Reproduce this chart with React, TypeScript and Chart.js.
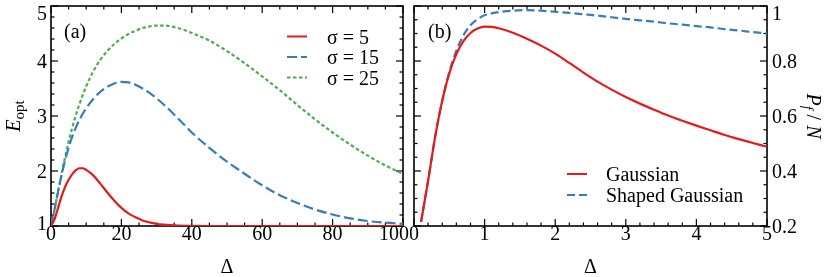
import React, { useEffect, useRef } from "react";
import { Chart, registerables } from "chart.js";

Chart.register(...registerables);

const FONT = '"Liberation Serif", "DejaVu Serif", "Times New Roman", Times, serif';
const RED = "#e41a1c";
const BLUE = "#377eb8";
const GREEN = "#4daf4a";

// ---------- Panel (a) ----------
const deltaA = [0, 1, 2, 3, 4, 5, 6, 7, 8, 9, 10, 12, 14, 16, 18, 20, 22, 24, 26, 28, 30, 32, 34, 36, 38, 40, 45, 50, 55, 60, 65, 70, 75, 80, 85, 90, 95, 100];
const eSigma5 = [1.0, 1.12, 1.33, 1.54, 1.71, 1.84, 1.94, 2.01, 2.05, 2.05, 2.02, 1.92, 1.77, 1.61, 1.46, 1.33, 1.23, 1.16, 1.1, 1.065, 1.04, 1.025, 1.015, 1.008, 1.004, 1.002, 1.0, 1.0, 1.0, 1.0, 1.0, 1.0, 1.0, 1.0, 1.0, 1.0, 1.0, 1.0];
const eSigma15 = [1.0, 1.3, 1.62, 1.92, 2.2, 2.42, 2.62, 2.78, 2.92, 3.04, 3.14, 3.31, 3.44, 3.53, 3.59, 3.62, 3.61, 3.57, 3.5, 3.42, 3.32, 3.21, 3.09, 2.96, 2.83, 2.7, 2.42, 2.17, 1.95, 1.74, 1.56, 1.42, 1.3, 1.21, 1.14, 1.09, 1.06, 1.04];
const eSigma25 = [1.0, 1.3, 1.63, 1.95, 2.25, 2.53, 2.78, 3.0, 3.2, 3.38, 3.54, 3.81, 4.02, 4.18, 4.31, 4.41, 4.49, 4.55, 4.6, 4.63, 4.645, 4.645, 4.63, 4.6, 4.56, 4.51, 4.37, 4.18, 3.96, 3.72, 3.47, 3.2, 2.94, 2.7, 2.48, 2.28, 2.1, 1.95];
const legendA = ["σ = 5", "σ = 15", "σ = 25"];
const xTicksA = [0, 20, 40, 60, 80, 100];
const xTickLabelsA = ["0", "20", "40", "60", "80", "100"];
const yTicksA = [1, 2, 3, 4, 5];
const yTickLabelsA = ["1", "2", "3", "4", "5"];

// ---------- Panel (b) ----------
const deltaB = [0.1, 0.2, 0.3, 0.4, 0.5, 0.6, 0.7, 0.8, 0.9, 1.0, 1.1, 1.2, 1.4, 1.6, 1.8, 2.0, 2.2, 2.4, 2.6, 2.8, 3.0, 3.2, 3.4, 3.6, 3.8, 4.0, 4.2, 4.4, 4.6, 4.8, 5.0];
const pGaussian = [0.215, 0.365, 0.525, 0.655, 0.755, 0.825, 0.872, 0.902, 0.918, 0.925, 0.924, 0.919, 0.903, 0.881, 0.856, 0.827, 0.793, 0.758, 0.725, 0.696, 0.669, 0.645, 0.623, 0.602, 0.583, 0.565, 0.548, 0.531, 0.516, 0.502, 0.488];
const pShaped = [0.215, 0.365, 0.525, 0.657, 0.76, 0.838, 0.893, 0.93, 0.952, 0.966, 0.973, 0.978, 0.983, 0.985, 0.983, 0.979, 0.975, 0.97, 0.965, 0.959, 0.953, 0.948, 0.943, 0.937, 0.932, 0.927, 0.922, 0.916, 0.911, 0.905, 0.9];
const legendB = ["Gaussian", "Shaped Gaussian"];
const xTicksB = [0, 1, 2, 3, 4, 5];
const xTickLabelsB = ["0", "1", "2", "3", "4", "5"];
const yTicksB = [0.2, 0.4, 0.6, 0.8, 1];
const yTickLabelsB = ["0.2", "0.4", "0.6", "0.8", "1"];

type LegendItem = { text: string; color: string; dash: number[] };
type PanelCfg = {
  tag: string;
  tagX: number;
  xMin: number; xMax: number; xMinor: number;
  yMin: number; yMax: number; yMinor: number;
  xTicks: number[]; xLabels: string[];
  yTicks: number[]; yLabels: string[];
  ySide: "left" | "right";
  lastXShift: number;
  clampBottom: boolean;
  legend: LegendItem[];
  legendX: number; legendY0: number; legendDy: number; legendTextDx: number;
  yTitle: "E" | "P";
  yTitleX: number;
};

function isMajor(v: number, list: number[]) {
  return list.some((t) => Math.abs(t - v) < 1e-6);
}

// draw text so that non-ASCII characters are shaped in their own run
function drawMixed(ctx: CanvasRenderingContext2D, text: string, x: number, y: number) {
  const parts: string[] = [];
  let cur = "";
  let curAscii: boolean | null = null;
  for (const ch of Array.from(text)) {
    const ascii = ch.charCodeAt(0) < 128;
    if (curAscii === null || ascii === curAscii) {
      cur += ch;
    } else {
      parts.push(cur);
      cur = ch;
    }
    curAscii = ascii;
  }
  if (cur) parts.push(cur);
  let px = x;
  for (const p of parts) {
    ctx.fillText(p, px, y);
    px += ctx.measureText(p).width;
  }
}

function makePlugin(cfg: PanelCfg) {
  return {
    id: "sciframe",
    beforeDatasetsDraw(chart: any) {
      const ctx: CanvasRenderingContext2D = chart.ctx;
      const a = chart.chartArea;
      const xs = chart.scales.x;
      const ys = chart.scales.y;
      ctx.save();
      ctx.strokeStyle = "#000";
      ctx.setLineDash([]);
      ctx.lineWidth = 1.2;
      const line = (x1: number, y1: number, x2: number, y2: number) => {
        ctx.beginPath();
        ctx.moveTo(x1, y1);
        ctx.lineTo(x2, y2);
        ctx.stroke();
      };
      const nx = Math.round((cfg.xMax - cfg.xMin) / cfg.xMinor);
      for (let i = 0; i <= nx; i++) {
        const v = cfg.xMin + i * cfg.xMinor;
        const len = isMajor(v, cfg.xTicks) ? 7 : 3.5;
        const px = xs.getPixelForValue(v);
        line(px, a.bottom, px, a.bottom - len);
        line(px, a.top, px, a.top + len);
      }
      const ny = Math.round((cfg.yMax - cfg.yMin) / cfg.yMinor);
      for (let i = 0; i <= ny; i++) {
        const v = cfg.yMin + i * cfg.yMinor;
        const len = isMajor(v, cfg.yTicks) ? 7 : 3.5;
        const py = ys.getPixelForValue(v);
        line(a.left, py, a.left + len, py);
        line(a.right, py, a.right - len, py);
      }
      ctx.lineWidth = 1.6;
      ctx.strokeRect(a.left, a.top, a.right - a.left, a.bottom - a.top);
      ctx.restore();
    },
    afterDraw(chart: any) {
      const ctx: CanvasRenderingContext2D = chart.ctx;
      const a = chart.chartArea;
      const xs = chart.scales.x;
      const ys = chart.scales.y;
      ctx.save();
      ctx.fillStyle = "#000";
      const line = (x1: number, y1: number, x2: number, y2: number) => {
        ctx.beginPath();
        ctx.moveTo(x1, y1);
        ctx.lineTo(x2, y2);
        ctx.stroke();
      };

      // x tick labels
      ctx.font = `20px ${FONT}`;
      ctx.textBaseline = "alphabetic";
      ctx.textAlign = "center";
      cfg.xTicks.forEach((v, i) => {
        let px = xs.getPixelForValue(v);
        if (i === cfg.xTicks.length - 1) px += cfg.lastXShift;
        ctx.fillText(cfg.xLabels[i], px, a.bottom + 14);
      });
      // y tick labels
      cfg.yTicks.forEach((v, i) => {
        const py = ys.getPixelForValue(v);
        let base = py + 7;
        if (base < a.top + 14) base = a.top + 14;
        if (cfg.clampBottom && base > a.bottom + 4) base = a.bottom + 4;
        if (cfg.ySide === "left") {
          ctx.textAlign = "right";
          ctx.fillText(cfg.yLabels[i], a.left - 4, base);
        } else {
          ctx.textAlign = "left";
          ctx.fillText(cfg.yLabels[i], a.right + 5, base);
        }
      });
      // x title
      ctx.textAlign = "center";
      ctx.fillText("Δ", (a.left + a.right) / 2, a.bottom + 47);
      // panel tag
      ctx.textAlign = "left";
      ctx.fillText(cfg.tag, cfg.tagX, a.top + 32);

      // legend
      cfg.legend.forEach((it, i) => {
        const y = cfg.legendY0 + i * cfg.legendDy;
        ctx.strokeStyle = it.color;
        ctx.lineWidth = 2;
        ctx.setLineDash(it.dash);
        line(cfg.legendX, y, cfg.legendX + 20, y);
        ctx.setLineDash([]);
        ctx.fillStyle = "#000";
        ctx.textAlign = "left";
        drawMixed(ctx, it.text, cfg.legendX + cfg.legendTextDx, y + 7);
      });

      // y title
      const cy = (a.top + a.bottom) / 2;
      ctx.save();
      ctx.translate(cfg.yTitleX, cy);
      ctx.fillStyle = "#000";
      ctx.textAlign = "left";
      ctx.textBaseline = "alphabetic";
      if (cfg.yTitle === "E") {
        ctx.rotate(-Math.PI / 2);
        const fMain = `italic 20px ${FONT}`;
        const fSub = `15px ${FONT}`;
        ctx.font = fMain;
        const wE = ctx.measureText("E").width;
        ctx.font = fSub;
        const wS = ctx.measureText("opt").width;
        const x0 = -(wE + wS) / 2;
        ctx.font = fMain;
        ctx.fillText("E", x0, 7);
        ctx.font = fSub;
        ctx.fillText("opt", x0 + wE, 11);
      } else {
        ctx.rotate(Math.PI / 2);
        const fMain = `italic 20px ${FONT}`;
        const fSub = `italic 14px ${FONT}`;
        const fUp = `20px ${FONT}`;
        ctx.font = fMain;
        const wP = ctx.measureText("P").width;
        const wN = ctx.measureText("N").width;
        ctx.font = fSub;
        const wF = ctx.measureText("f").width;
        ctx.font = fUp;
        const wSl = ctx.measureText(" / ").width;
        const total = wP + wF + wSl + wN;
        let x = -total / 2;
        ctx.font = fMain;
        ctx.fillText("P", x, 7);
        x += wP;
        ctx.font = fSub;
        ctx.fillText("f", x, 11);
        x += wF;
        ctx.font = fUp;
        ctx.fillText(" / ", x, 7);
        x += wSl;
        ctx.font = fMain;
        ctx.fillText("N", x, 7);
      }
      ctx.restore();
      ctx.restore();
    },
  };
}

function pts(xs: number[], ys: number[]) {
  return xs.map((x, i) => ({ x, y: ys[i] }));
}

function lineDs(label: string, xs: number[], ys: number[], color: string, dash: number[]) {
  return {
    label,
    data: pts(xs, ys),
    borderColor: color,
    backgroundColor: color,
    borderWidth: 2.2,
    borderDash: dash,
    pointRadius: 0,
    fill: false,
    tension: 0.4,
    cubicInterpolationMode: "monotone",
  };
}

function baseOptions(cfg: PanelCfg, padding: any) {
  return {
    responsive: false,
    animation: false,
    devicePixelRatio: 1,
    layout: { padding },
    plugins: { legend: { display: false }, tooltip: { enabled: false } },
    scales: {
      x: { type: "linear", min: cfg.xMin, max: cfg.xMax, display: false },
      y: { type: "linear", min: cfg.yMin, max: cfg.yMax, display: false },
    },
  };
}

const DASH_A15 = [10, 4];
const DASH_A25 = [3.5, 2.5];
const DASH_B = [8, 4];

export default function App() {
  const refA = useRef<HTMLCanvasElement | null>(null);
  const refB = useRef<HTMLCanvasElement | null>(null);

  useEffect(() => {
    const cfgA: PanelCfg = {
      tag: "(a)", tagX: 64,
      xMin: 0, xMax: 100, xMinor: 5,
      yMin: 1, yMax: 5, yMinor: 0.2,
      xTicks: xTicksA, xLabels: xTickLabelsA,
      yTicks: yTicksA, yLabels: yTickLabelsA,
      ySide: "left", lastXShift: -9, clampBottom: true,
      legend: [
        { text: legendA[0], color: RED, dash: [] },
        { text: legendA[1], color: BLUE, dash: DASH_A15 },
        { text: legendA[2], color: GREEN, dash: DASH_A25 },
      ],
      legendX: 287, legendY0: 36.5, legendDy: 20.5, legendTextDx: 40,
      yTitle: "E", yTitleX: 13,
    };
    const cfgB: PanelCfg = {
      tag: "(b)", tagX: 18,
      xMin: 0, xMax: 5, xMinor: 0.2,
      yMin: 0.2, yMax: 1, yMinor: 0.05,
      xTicks: xTicksB, xLabels: xTickLabelsB,
      yTicks: yTicksB, yLabels: yTickLabelsB,
      ySide: "right", lastXShift: 0, clampBottom: false,
      legend: [
        { text: legendB[0], color: RED, dash: [] },
        { text: legendB[1], color: BLUE, dash: DASH_B },
      ],
      legendX: 157, legendY0: 174, legendDy: 21, legendTextDx: 39,
      yTitle: "P", yTitleX: 404,
    };

    const chartA = new Chart(refA.current as HTMLCanvasElement, {
      type: "line",
      data: {
        datasets: [
          lineDs(legendA[0], deltaA, eSigma5, RED, []),
          lineDs(legendA[1], deltaA, eSigma15, BLUE, DASH_A15),
          lineDs(legendA[2], deltaA, eSigma25, GREEN, DASH_A25),
        ] as any,
      },
      options: baseOptions(cfgA, { left: 51, right: 7, top: 6, bottom: 51 }) as any,
      plugins: [makePlugin(cfgA) as any],
    });
    const chartB = new Chart(refB.current as HTMLCanvasElement, {
      type: "line",
      data: {
        datasets: [
          lineDs(legendB[0], deltaB, pGaussian, RED, []),
          lineDs(legendB[1], deltaB, pShaped, BLUE, DASH_B),
        ] as any,
      },
      options: baseOptions(cfgB, { left: 4, right: 63, top: 6, bottom: 51 }) as any,
      plugins: [makePlugin(cfgB) as any],
    });
    return () => {
      chartA.destroy();
      chartB.destroy();
    };
  }, []);

  return (
    <div style={{ position: "absolute", left: 0, top: 0, width: 830, height: 277, background: "#fff" }}>
      <canvas ref={refA} width={410} height={277} style={{ position: "absolute", left: 0, top: 0, width: 410, height: 277 }} />
      <canvas ref={refB} width={420} height={277} style={{ position: "absolute", left: 410, top: 0, width: 420, height: 277 }} />
    </div>
  );
}
